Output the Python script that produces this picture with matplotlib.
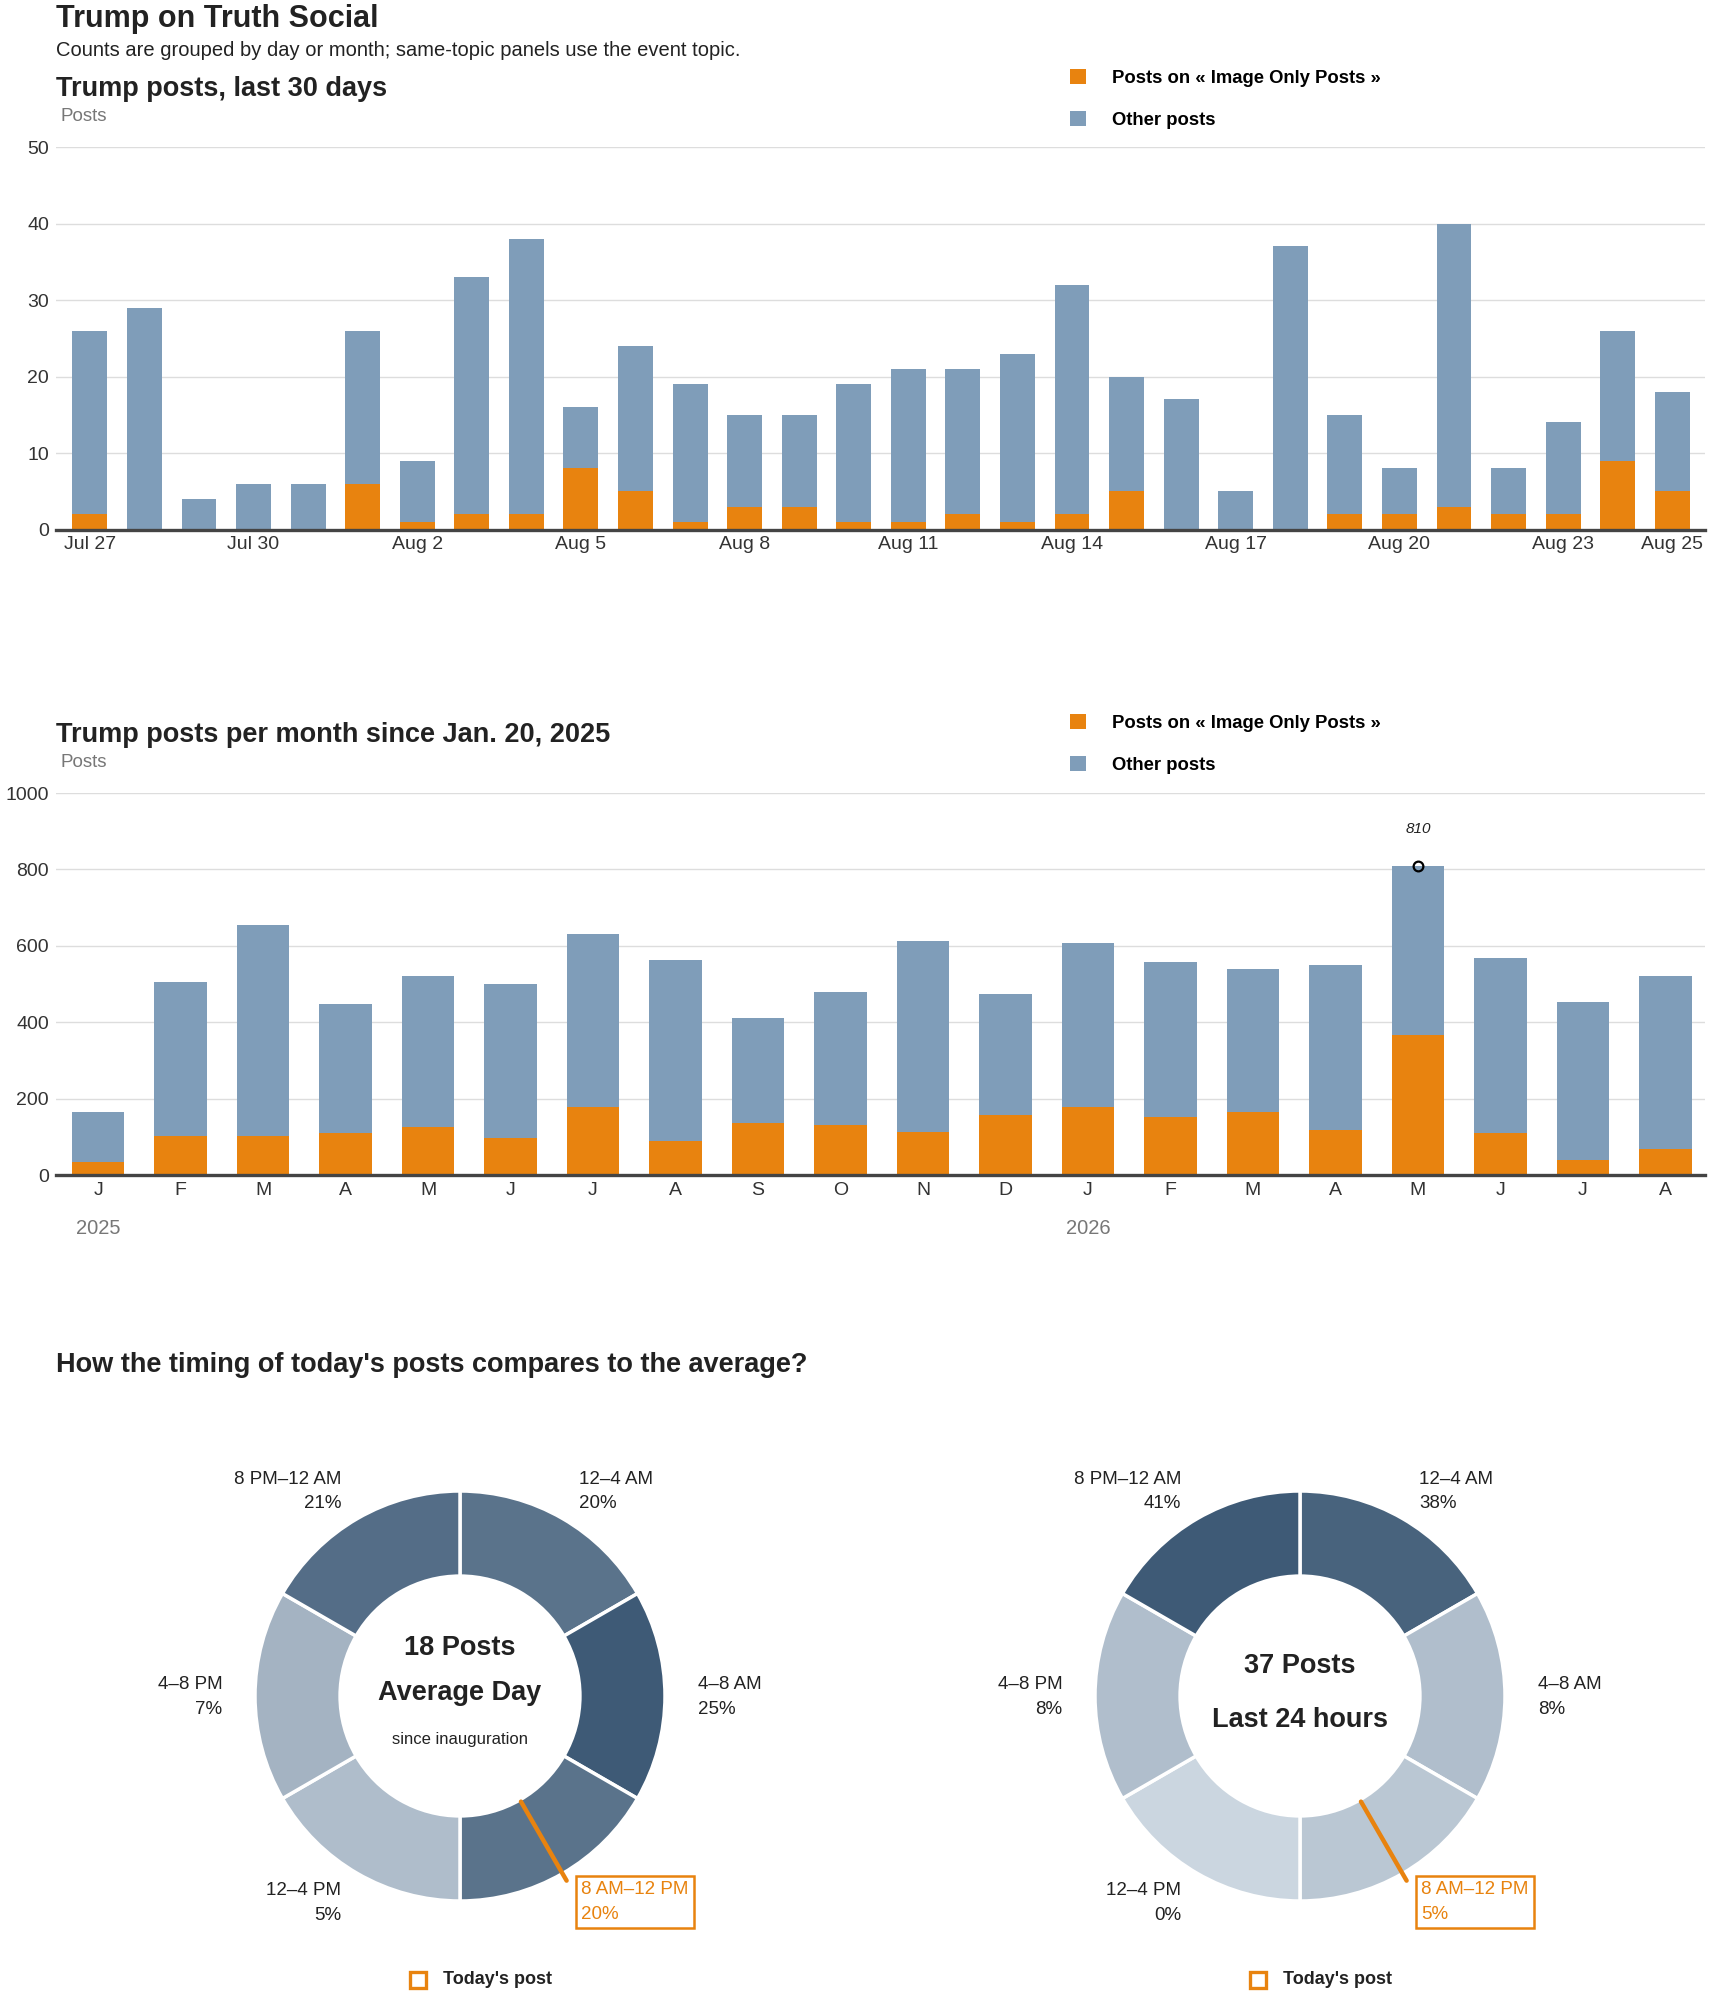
import numpy as np
import matplotlib.pyplot as plt
from matplotlib.colors import LinearSegmentedColormap

# fonts: narrow family first, fall back to regular sans
plt.rcParams['font.family'] = ['Liberation Sans Narrow', 'DejaVu Sans Condensed', 'Liberation Sans', 'DejaVu Sans']

ORANGE = '#e8830f'
BLUE = '#7f9db9'
GRID = '#dddddd'
INK = '#222222'

# ---- data: last 30 days (Jul 27 .. Aug 25) ----
day_total = [26, 29, 4, 6, 6, 26, 9, 33, 38, 16, 24, 19, 15, 15, 19,
             21, 21, 23, 32, 20, 17, 5, 37, 15, 8, 40, 8, 14, 26, 18]
day_topic = [2, 0, 0, 0, 0, 6, 1, 2, 2, 8, 5, 1, 3, 3, 1,
             1, 2, 1, 2, 5, 0, 0, 0, 2, 2, 3, 2, 2, 9, 5]
day_tick_pos = [0, 3, 6, 9, 12, 15, 18, 21, 24, 27, 29]
day_tick_lab = ['Jul 27', 'Jul 30', 'Aug 2', 'Aug 5', 'Aug 8', 'Aug 11',
                'Aug 14', 'Aug 17', 'Aug 20', 'Aug 23', 'Aug 25']

# ---- data: posts per month (Jan 2025 .. Aug 2026) ----
month_total = [165, 504, 654, 447, 520, 500, 631, 562, 412, 478, 612, 473,
               607, 557, 539, 549, 810, 568, 452, 520]
month_topic = [33, 103, 103, 110, 126, 96, 178, 89, 136, 131, 113, 156,
               178, 152, 165, 118, 366, 111, 39, 69]
month_lab = ['J', 'F', 'M', 'A', 'M', 'J', 'J', 'A', 'S', 'O', 'N', 'D',
             'J', 'F', 'M', 'A', 'M', 'J', 'J', 'A']
year_lab = {0: '2025', 12: '2026'}
peak_month = 16

# ---- data: timing donuts ----
slots = ['12–4 AM', '4–8 AM', '8 AM–12 PM', '12–4 PM', '4–8 PM', '8 PM–12 AM']
avg_pct = [20, 25, 20, 5, 7, 21]
last24_pct = [38, 8, 5, 0, 8, 41]
today_slot = '8 AM–12 PM'

W, H = 1710, 1993
fig = plt.figure(figsize=(W / 100, H / 100), dpi=100)

TICK = 14
TITLE = 19.5


def fx(px):
    return px / W


def fy(py):
    return 1 - py / H


def style_bar_axes(ax):
    for s in ['top', 'right', 'left']:
        ax.spines[s].set_visible(False)
    ax.spines['bottom'].set_color('#444444')
    ax.spines['bottom'].set_linewidth(2.4)
    ax.grid(axis='y', color=GRID, linewidth=1.0)
    ax.set_axisbelow(True)
    ax.tick_params(length=0, labelsize=TICK, colors='#333333', pad=5)


def stacked(ax, total, topic, legend_top):
    x = np.arange(len(total))
    other = np.array(total) - np.array(topic)
    b1 = ax.bar(x, topic, width=0.64, color=ORANGE, linewidth=0)
    b2 = ax.bar(x, other, bottom=topic, width=0.64, color=BLUE, linewidth=0)
    ax.legend([b1, b2], ['Posts on « Image Only Posts »', 'Other posts'],
              loc='upper left', bbox_to_anchor=(fx(1070), fy(legend_top)), bbox_transform=fig.transFigure,
              frameon=False, borderpad=0, borderaxespad=0,
              handlelength=0.85, handleheight=0.85, handletextpad=1.4, labelspacing=1.3,
              prop=dict(weight='bold', size=13.3))
    return x


# ---- header ----
fig.text(fx(56), fy(27), 'Trump on Truth Social', fontsize=22, weight='bold', color=INK, va='baseline')
fig.text(fx(56), fy(56), 'Counts are grouped by day or month; same-topic panels use the event topic.',
         fontsize=14.5, color=INK, va='baseline')

# ---- chart 1: last 30 days ----
fig.text(fx(56), fy(96), 'Trump posts, last 30 days', fontsize=TITLE, weight='bold', color=INK, va='baseline')
ax1 = fig.add_axes([fx(56), fy(529.5), (1705 - 56) / W, (529.5 - 147) / H])
style_bar_axes(ax1)
stacked(ax1, day_total, day_topic, 69)
ax1.set_xlim(-0.62, 29.6)
ax1.set_ylim(0, 50)
ax1.set_yticks([0, 10, 20, 30, 40, 50])
ax1.set_xticks(day_tick_pos)
ax1.set_xticklabels(day_tick_lab)
ax1.text(0.003, 1.08, 'Posts', transform=ax1.transAxes, fontsize=13.5, color='#777777', va='center')

# ---- chart 2: per month ----
fig.text(fx(56), fy(742), 'Trump posts per month since Jan. 20, 2025', fontsize=TITLE, weight='bold',
         color=INK, va='baseline')
ax2 = fig.add_axes([fx(56), fy(1175), (1705 - 56) / W, (1175 - 793) / H])
style_bar_axes(ax2)
xm = stacked(ax2, month_total, month_topic, 714)
ax2.set_xlim(-0.51, 19.48)
ax2.set_ylim(0, 1000)
ax2.set_yticks([0, 200, 400, 600, 800, 1000])
ax2.set_xticks(xm)
ax2.set_xticklabels(month_lab)
ax2.text(0.003, 1.08, 'Posts', transform=ax2.transAxes, fontsize=13.5, color='#777777', va='center')
for i, yr in year_lab.items():
    ax2.text(i, -0.139, yr, transform=ax2.get_xaxis_transform(), ha='center', va='center',
             fontsize=14.5, color='#777777')
ax2.plot(peak_month, month_total[peak_month], 'o', ms=7, mfc='none', mec='black', mew=1.6, zorder=5)
ax2.annotate(str(month_total[peak_month]), (peak_month, month_total[peak_month]),
             xytext=(0, 26), textcoords='offset points', ha='center', va='center',
             fontsize=11, style='italic', color=INK)

# ---- donuts ----
fig.text(fx(56), fy(1372), "How the timing of today's posts compares to the average?",
         fontsize=TITLE, weight='bold', color=INK, va='baseline')

cmap = LinearSegmentedColormap.from_list('slate', ['#cbd6e0', '#3e5a76'])
R = 205.0  # outer radius in px
HALF = 300.0


def donut(cx, cy, pct, center_lines):
    ax = fig.add_axes([fx(cx - HALF), fy(cy + HALF), 2 * HALF / W, 2 * HALF / H])
    lim = HALF / R
    vmax = max(pct)
    cols = [cmap(p / vmax) for p in pct]
    ax.pie([1] * len(pct), colors=cols, startangle=90, counterclock=False, radius=1,
           wedgeprops=dict(width=0.415, edgecolor='white', linewidth=2.5))
    ax.set_xlim(-lim, lim)
    ax.set_ylim(-lim, lim)
    ax.set_aspect('equal')
    ax.axis('off')
    for i, (name, p) in enumerate(zip(slots, pct)):
        th = np.deg2rad(90 - (i + 0.5) * 360 / len(pct))
        lx, ly = 1.16 * np.cos(th), 1.16 * np.sin(th)
        ha = 'left' if lx > 0.01 else 'right'
        if name == today_slot:
            ax.text(lx + 0.01, ly, f'{name}\n{p}%', ha=ha, va='center', fontsize=13.5, color=ORANGE,
                    linespacing=1.55,
                    bbox=dict(boxstyle='square,pad=0.28', fc='white', ec=ORANGE, lw=1.8))
            ax.plot([0.595 * np.cos(th), 1.04 * np.cos(th)], [0.595 * np.sin(th), 1.04 * np.sin(th)],
                    color=ORANGE, lw=3.2, solid_capstyle='round', zorder=5)
        else:
            ax.text(lx, ly - 0.005, f'{name}\n{p}%', ha=ha, va='center', fontsize=13.5, color=INK,
                    linespacing=1.55, multialignment=ha)
    for txt, yy, size, wt in center_lines:
        ax.text(0, yy, txt, ha='center', va='center', fontsize=size, weight=wt, color=INK)
    ax.plot(-0.205, -1.383, 's', ms=12, mfc='none', mec=ORANGE, mew=2.4, clip_on=False)
    ax.text(-0.083, -1.383, "Today's post", ha='left', va='center', fontsize=13, weight='bold',
            color=INK)
    return ax


donut(460, 1696, avg_pct, [('18 Posts', 0.234, 19.5, 'bold'), ('Average Day', 0.015, 19.5, 'bold'),
                           ('since inauguration', -0.21, 12, 'normal')])
donut(1300, 1696, last24_pct, [('37 Posts', 0.146, 19.5, 'bold'), ('Last 24 hours', -0.117, 19.5, 'bold')])

fig.savefig('out.png', dpi=100)
